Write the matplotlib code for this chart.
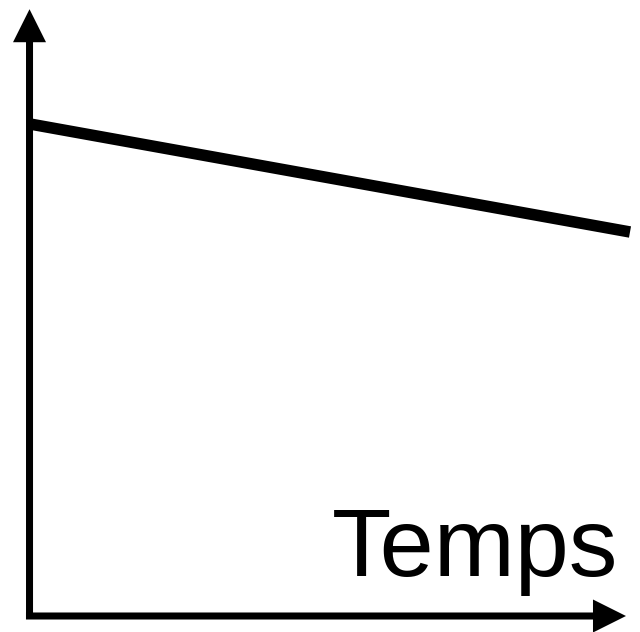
import matplotlib
matplotlib.use("Agg")
import matplotlib.pyplot as plt

# la grandeur décroît avec le temps
temps = [0, 100]
valeur = [82, 64]
xlabel = "Temps"

fig = plt.figure(figsize=(6.4, 6.32), dpi=100)
ax = fig.add_axes([0, 0, 1, 1])
# 6 px par unité, origine à (30, 616) px
ax.set_xlim(-5, 610 / 6)
ax.set_ylim(-16 / 6, 616 / 6)
ax.axis("off")

# axes fléchés
ax.arrow(-0.08, -0.17, 0, 101.3, width=1.17, head_width=5.5, head_length=5.5,
         length_includes_head=True, color="black", lw=0)
ax.arrow(-0.67, 0, 100.0, 0, width=1.17, head_width=5.5, head_length=5.5,
         length_includes_head=True, color="black", lw=0)

ax.plot(temps, valeur, color="black", lw=8.3, solid_capstyle="butt")

ax.text(98, 6.67, xlabel, ha="right", va="baseline",
        fontsize=70, family="Liberation Sans")

fig.savefig("out.png", dpi=100)
